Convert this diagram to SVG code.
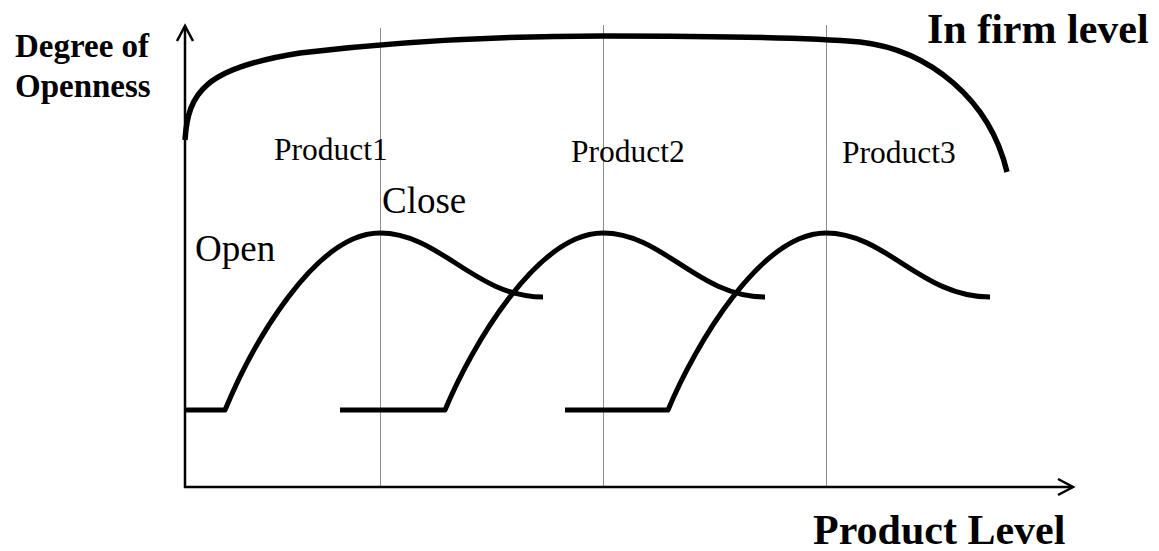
<svg xmlns="http://www.w3.org/2000/svg" width="1159" height="551" viewBox="0 0 1159 551">
<style>
.curve{fill:none;stroke:#000;stroke-width:5;stroke-linejoin:round}
.thick{stroke-width:5.5}
.axis{fill:none;stroke:#000;stroke-width:2.5}
.guide{fill:none;stroke:#8c8c8c;stroke-width:1}
.b{font-family:"Liberation Serif","Times New Roman",serif;font-weight:bold;fill:#000}
.r{font-family:"Liberation Serif","Times New Roman",serif;fill:#000}
</style>
<defs>
<marker id="chev" markerUnits="userSpaceOnUse" markerWidth="20" markerHeight="20" refX="16" refY="9" orient="auto" overflow="visible">
<path d="M1,1 L16,9 L1,17" fill="none" stroke="#000" stroke-width="2.5"/>
</marker>
</defs>
<rect width="1159" height="551" fill="#fff"/>
<g id="guides">
<line class="guide" x1="380.5" y1="28" x2="380.5" y2="487"/>
<line class="guide" x1="603.5" y1="25" x2="603.5" y2="487"/>
<line class="guide" x1="826.5" y1="25" x2="826.5" y2="487"/>
</g>
<g id="connectors">
<line id="y-axis" class="axis" x1="185" y1="488" x2="185" y2="26" marker-end="url(#chev)"/>
<line id="x-axis" class="axis" x1="184" y1="487" x2="1073" y2="487" marker-end="url(#chev)"/>
</g>
<g id="firm-curve">
<path class="curve thick" d="M185,140 C188,92 205,68 300,53 C400,41 500,36 603,36 C700,36 800,37 860,42 C930,50 990,100 1007,172"/>
</g>
<g id="product1-curve">
<path class="curve" d="M186,410 L225,410 C252,345 315,233 380,233 C440,233 475,297 543,297"/>
</g>
<g id="product2-curve">
<path class="curve" d="M340,410 L445,410 C472,345 538,233 603,233 C663,233 698,297 765,297"/>
</g>
<g id="product3-curve">
<path class="curve" d="M565,410 L668,410 C695,345 761,233 826,233 C886,233 921,297 990,297"/>
</g>
<g id="labels">
<text id="y-label-1" class="b" x="15" y="57" font-size="33">Degree of</text>
<text id="y-label-2" class="b" x="15" y="97" font-size="33">Openness</text>
<text id="firm-label" class="b" x="927" y="43" font-size="42">In firm level</text>
<text id="x-label" class="b" x="813" y="544" font-size="42">Product Level</text>
<text id="p1" class="r" x="274" y="160" font-size="31.5">Product1</text>
<text id="p2" class="r" x="571" y="162" font-size="31.5">Product2</text>
<text id="p3" class="r" x="842" y="163" font-size="31.5">Product3</text>
<text id="close" class="r" x="382" y="213" font-size="37">Close</text>
<text id="open" class="r" x="195" y="261" font-size="37">Open</text>
</g>
</svg>
